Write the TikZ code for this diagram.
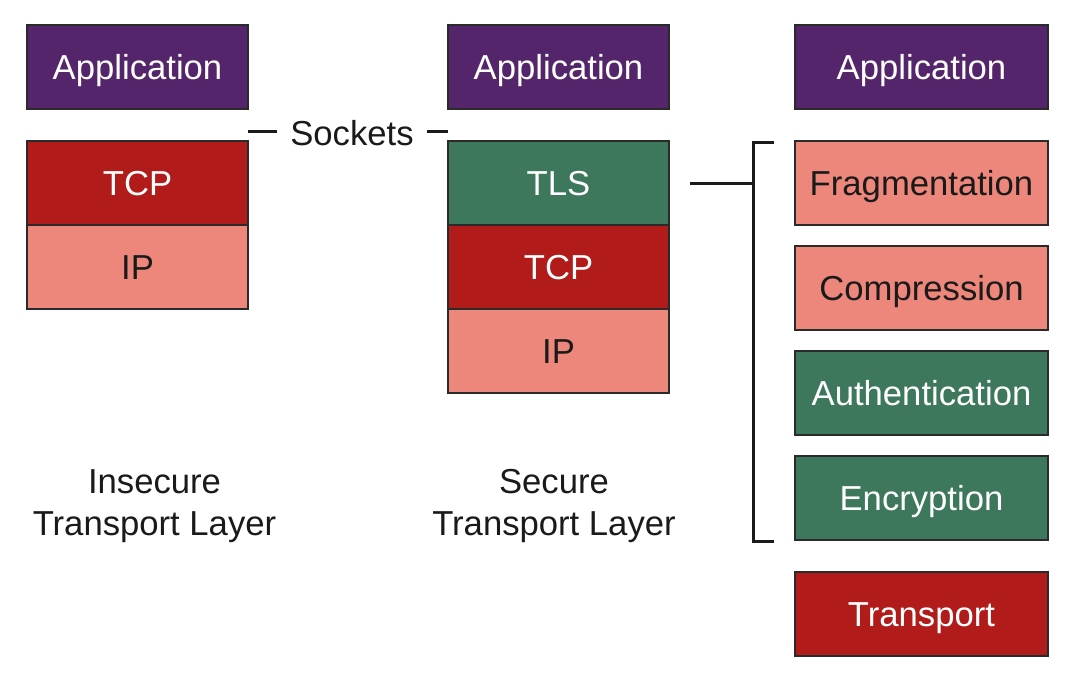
\documentclass[tikz,border=0pt]{standalone}
\usepackage{fontspec}
\setmainfont{Liberation Sans}
\definecolor{appPurple}{HTML}{55256B}
\definecolor{tcpRed}{HTML}{B11C1A}
\definecolor{ipSalmon}{HTML}{ED877B}
\definecolor{tlsGreen}{HTML}{3D775C}
\definecolor{inkDark}{HTML}{1A1A1A}
\definecolor{edgeGrey}{HTML}{2A2A2A}

\tikzset{every picture/.style={line width=0.75pt}}
\tikzset{
	layer/.style={draw=edgeGrey, line width=1.1pt, inner sep=0pt, outer sep=0pt,
		minimum width=165.75pt, minimum height=63pt,
		text height=18.6pt, text depth=0pt,
		font=\fontsize{26}{31}\selectfont},
	sublayer/.style={layer, minimum width=189.75pt},
	darkfill/.style={text=white},
	lightfill/.style={text=inkDark},
	caption/.style={align=center, text=inkDark, font=\fontsize{26}{31.5}\selectfont, inner sep=0pt},
	bar/.style={draw=inkDark, line width=2.25pt}
}

\begin{document}
\begin{tikzpicture}[x=0.75pt,y=0.75pt,yscale=-1,xscale=1]
	\path[use as bounding box] (0,0) rectangle (1068,676);

	%Shape: Rectangle [insecure stack]
	\node[layer, darkfill, fill=appPurple] (appA) at (137.5,67) {Application};
	\node[layer, darkfill, fill=tcpRed] (tcpA) at (137.5,183) {TCP};
	\node[layer, lightfill, fill=ipSalmon] (ipA) at (137.5,267) {IP};

	%Shape: Rectangle [secure stack]
	\node[layer, darkfill, fill=appPurple] (appB) at (558.5,67) {Application};
	\node[layer, darkfill, fill=tlsGreen] (tlsB) at (558.5,183) {TLS};
	\node[layer, darkfill, fill=tcpRed] (tcpB) at (558.5,267) {TCP};
	\node[layer, lightfill, fill=ipSalmon] (ipB) at (558.5,351) {IP};

	%Shape: Rectangle [TLS detail]
	\node[sublayer, darkfill, fill=appPurple] (appC) at (921.5,67) {Application};
	\node[sublayer, lightfill, fill=ipSalmon] (fragC) at (921.5,183) {Fragmentation};
	\node[sublayer, lightfill, fill=ipSalmon] (compC) at (921.5,288) {Compression};
	\node[sublayer, darkfill, fill=tlsGreen] (authC) at (921.5,393) {Authentication};
	\node[sublayer, darkfill, fill=tlsGreen] (encC) at (921.5,498) {Encryption};
	\node[sublayer, darkfill, fill=tcpRed] (transC) at (921.5,614) {Transport};

	% Text Node
	\node[caption] (sockets) at (352,133) {Sockets};
	% Text Node
	\node[caption] (capA) at (154.5,506) {Insecure\\Transport Layer};
	% Text Node
	\node[caption] (capB) at (554,506) {Secure\\Transport Layer};

	%Straight Lines [socket marks]
	\coordinate (sockL1) at (248,131);
	\coordinate (sockL2) at (277,131);
	\coordinate (sockR1) at (427,131);
	\coordinate (sockR2) at (448,131);
	\draw[bar] (sockL1) -- (sockL2);
	\draw[bar] (sockR1) -- (sockR2);

	%Straight Lines [bracket]
	\coordinate (tlsOut) at (690,183);
	\coordinate (brMid) at (753,183);
	\coordinate (brTop) at (774,142);
	\coordinate (brBot) at (774,541);
	\draw[bar] (tlsOut) -- (brMid);
	\draw[bar] (brTop) -- (753,142) -- (753,541) -- (brBot);

\end{tikzpicture}
\end{document}
